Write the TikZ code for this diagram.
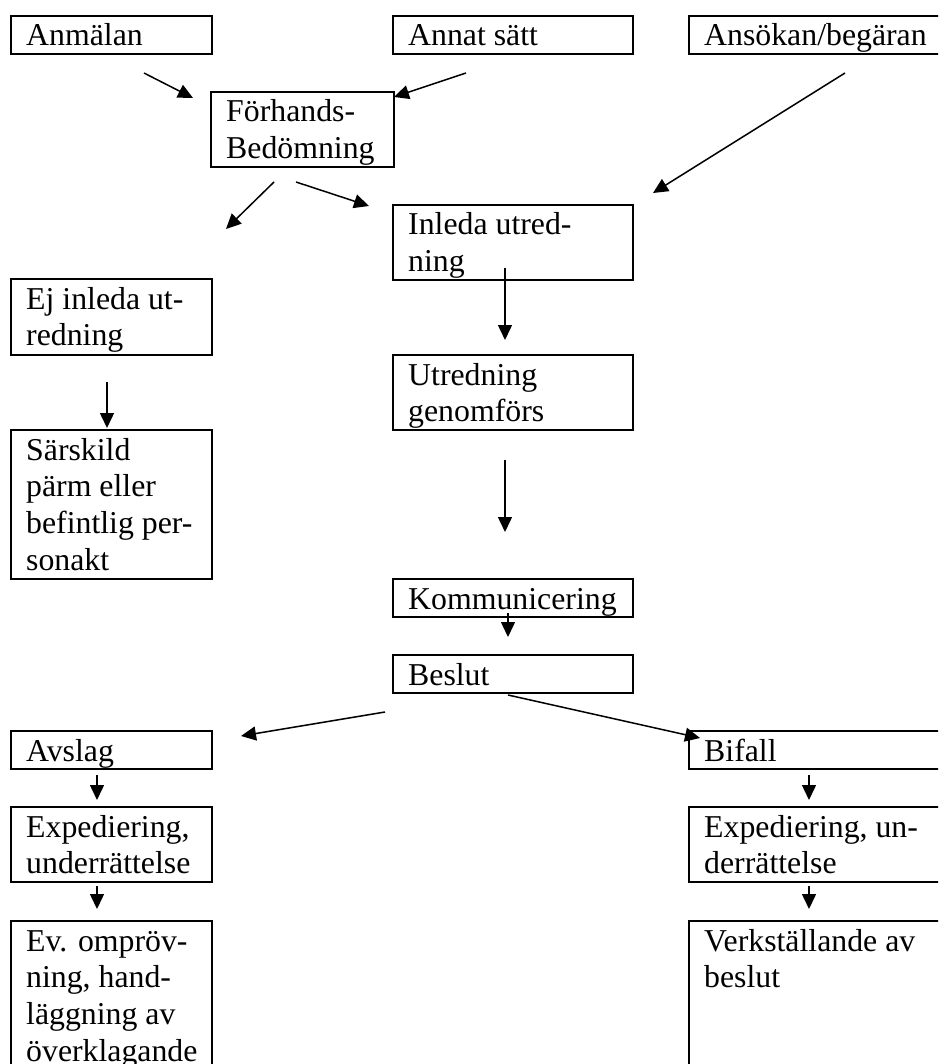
\documentclass[tikz,border=0pt]{standalone}
\usepackage{fontspec}
\setmainfont{Liberation Serif}
\usetikzlibrary{arrows.meta}
\tikzset{
  box/.style={draw, line width=2pt, rectangle, anchor=north west, inner sep=0pt, outer sep=0pt},
  lbl/.style={anchor=base west, inner sep=0pt, font=\fontsize{31.8}{36.7}\selectfont},
  arr/.style={line width=1.5pt, -{Triangle[length=15pt,width=14pt]}}
}
\newcommand\mybox[6]{%
  \node[box, minimum width=#4pt-#2pt, minimum height=#5pt-#3pt] (#1) at (#2,#3) {};
  \node[lbl] (#1-t) at ([xshift=15pt,yshift=-30pt]#1.north west) {\parbox[t]{400pt}{\raggedright #6}};
}
\begin{document}
\begin{tikzpicture}[x=1pt,y=-1pt]
\useasboundingbox (0,0) rectangle (938,1064);
\clip (0,0) rectangle (938,1064);
\fill[white] (0,0) rectangle (938,1064);
\mybox{anm}{11}{16}{212}{54}{Anmälan}
\mybox{ann}{393}{16}{633}{54}{Annat sätt}
\mybox{ans}{689}{16}{960}{54}{Ansökan/begäran}
\mybox{forh}{211}{92}{394}{167}{Förhands-\\Bedömning}
\mybox{inl}{393}{205}{633}{280}{Inleda utred-\\ning}
\mybox{ej}{11}{279}{212}{355}{Ej inleda ut-\\redning}
\mybox{sar}{11}{430}{212}{579}{Särskild\\pärm eller\\befintlig per-\\sonakt}
\mybox{utr}{393}{355}{633}{430}{Utredning\\genomförs}
\mybox{kom}{393}{579}{633}{617}{Kommunicering}
\mybox{bes}{393}{655}{633}{693}{Beslut}
\mybox{avs}{11}{731}{212}{769}{Avslag}
\mybox{expl}{11}{807}{212}{882}{Expediering,\\underrättelse}
\mybox{ev}{11}{921}{212}{1100}{Ev. ompröv-\\ning, hand-\\läggning av\\överklagande}
\mybox{bif}{689}{731}{960}{769}{Bifall}
\mybox{expr}{689}{807}{960}{882}{Expediering, un-\\derrättelse}
\mybox{verk}{689}{921}{960}{1100}{Verkställande av\\beslut}

\coordinate (a1s) at (144,73);  \coordinate (a1e) at (193,98);
\coordinate (a2s) at (466,73);  \coordinate (a2e) at (394,97);
\coordinate (a3s) at (845,73);  \coordinate (a3e) at (653,193);
\coordinate (a4s) at (274,182); \coordinate (a4e) at (226,229);
\coordinate (a5s) at (296,182); \coordinate (a5e) at (369,206);
\coordinate (a6s) at (505,268); \coordinate (a6e) at (505,340);
\coordinate (a7s) at (107,382); \coordinate (a7e) at (107,428);
\coordinate (a8s) at (505,460); \coordinate (a8e) at (505,532);
\coordinate (a9s) at (508,613); \coordinate (a9e) at (508,637);
\coordinate (a10s) at (385,712); \coordinate (a10e) at (241,736);
\coordinate (a11s) at (508,695); \coordinate (a11e) at (700,738);
\coordinate (a12s) at (97,775); \coordinate (a12e) at (97,800);
\coordinate (a13s) at (97,886); \coordinate (a13e) at (97,909);
\coordinate (a14s) at (809,775); \coordinate (a14e) at (809,800);
\coordinate (a15s) at (809,886); \coordinate (a15e) at (809,909);
\foreach \i in {1,...,15} {\draw[arr] (a\i s) -- (a\i e);}
\end{tikzpicture}
\end{document}
